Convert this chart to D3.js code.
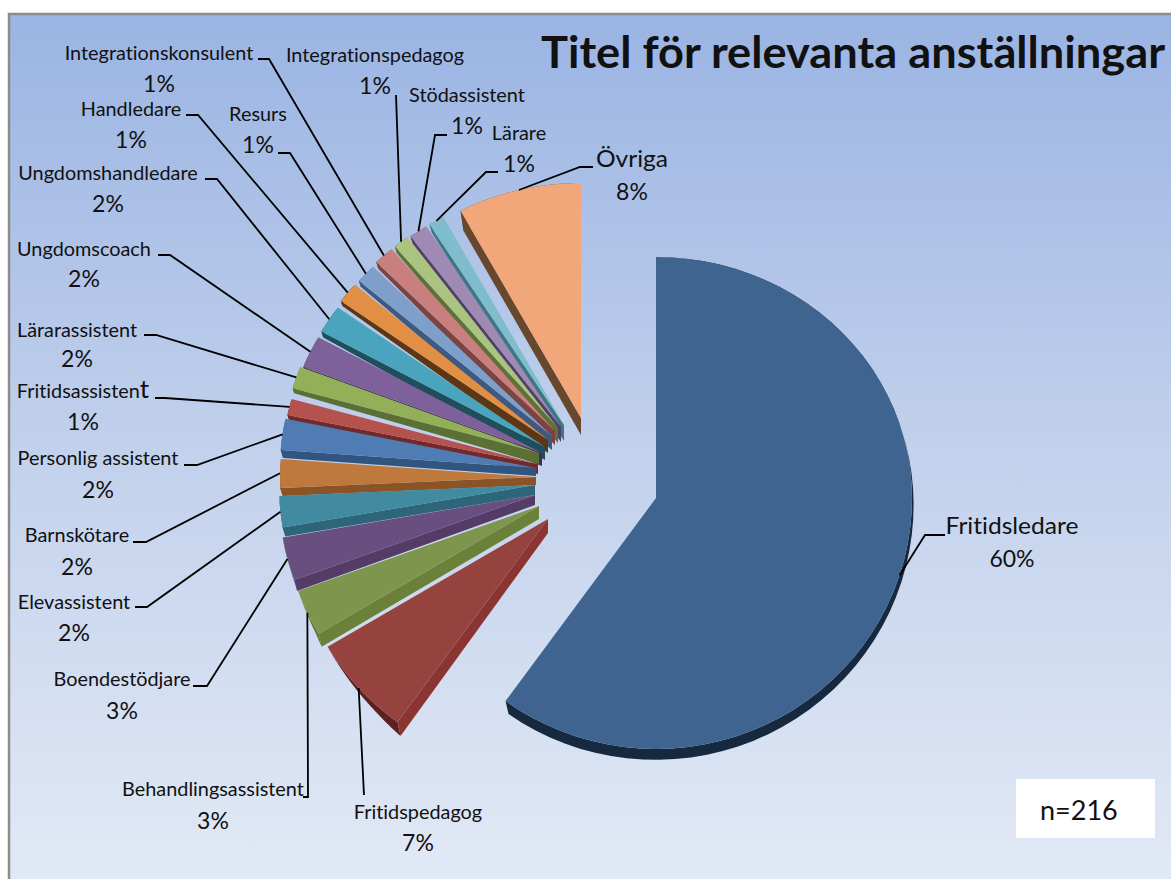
<!DOCTYPE html>
<html><head><meta charset="utf-8">
<script src="https://cdn.jsdelivr.net/npm/d3@7"></script>
<style>html,body{margin:0;padding:0;background:#fff}svg{display:block}text{font-family:Lato,"Open Sans",sans-serif;fill:#111;font-variant-ligatures:none;font-feature-settings:"liga" 0}</style>
</head><body><svg id="c" width="1171" height="879"></svg>
<script>
// ---- data ----
const categories = ["Fritidsledare","Fritidspedagog","Behandlingsassistent","Boendestödjare","Elevassistent","Barnskötare","Personlig assistent","Fritidsassistent","Lärarassistent","Ungdomscoach","Ungdomshandledare","Handledare","Resurs","Integrationskonsulent","Integrationspedagog","Stödassistent","Lärare","Övriga"];
const shares = [60,6.5,3,2.8,2,1.9,2.1,1.1,1.5,2.2,1.9,1.4,1.3,1.3,1,1.2,1,7.8];
const title = "Titel för relevanta anställningar";
const sampleNote = "n=216";
// ---- style ----
const topColors = ["#3e648f","#964340","#7e954d","#684f80","#418aa0","#bf793d","#4f7db3","#b5524e","#93af57","#7e609a","#4ba4bd","#e08f45","#7f9fcb","#c97f7d","#aac47f","#9f8ab4","#7fbccc","#f2a77a"];
const sideColors = ["#17293f","#8a3531","#6b8139","#543c66","#2c6678","#8a5426","#325580","#73292a","#5b7035","#412e58","#1f4e5c","#5d3613","#3f5a82","#7a4442","#5e7138","#52406a","#3f7683","#68472f"];
const rimColors = ["#17293f","#5a2220","#5f7333","#4c3860","#2c6678","#8a5426","#325580","#73292a","#5b7035","#412e58","#1f4e5c","#5d3613","#3f5a82","#7a4442","#5e7138","#52406a","#3f7683","#68472f"];
// ---- layout: exploded slice apexes and extrusion depth ----
const apexes = [[656,498],[548,519],[539,506],[535,495],[535,485],[536,477],[536,468],[538,464],[539,453],[542,453],[545,447],[548,440],[552,436],[555,431],[558,428],[561,427],[564,425],[581,418]];
const depthApex = [0,14,13,10,10,8,8,10,11,13,13,13,14,14,15,15,16,17];
const depthStart = [0,14,13,11,9,8,8,7,5,6,6,5,6,7,7,8,9,20];
const depthEnd = [13,0,0,0,0,0,0,0,0,0,0,0,0,0,0,0,0,0];
// label block: centre x, name baseline, percent baseline
const labelPos = [[1012,534,567],[418,819,851],[213,796,829],[122,686,719],[74,609,641],[77,542,575],[98,465,498],[83,398,430],[77,337,367],[84,256,287],[108,180,212],[131,116,148],[258,121,153],[159,60,92],[375,62,94],[467,102,134],[519,140,172],[632,167,200]];
// leader polyline before it reaches the slice
const leaderPts = [[[945,535],[925,535]],[[364,795]],[[303,797],[308,797]],[[193,686],[207,686]],[[135,607],[147,607]],[[133,542],[146,542]],[[184,465],[197,465]],[[155,398],[165,398]],[[144,335],[156,335]],[[158,255],[170,255]],[[205,179],[217,179]],[[186,115],[198,115]],[[278,153],[290,153]],[[258,59],[269,59]],[[396,95]],[[447,135],[435,135]],[[498,172],[486,172]],[[593,167],[580,167]]];

const svg = d3.select("#c");
const defs = svg.append("defs");
const g = defs.append("linearGradient").attr("id","bg").attr("x1",0).attr("x2",0).attr("y1",0).attr("y2",1);
g.append("stop").attr("offset","0").attr("stop-color","#9ab4e3");
g.append("stop").attr("offset","0.5").attr("stop-color","#c2d1ec");
g.append("stop").attr("offset","1").attr("stop-color","#e3eaf6");
svg.append("rect").attr("x",9).attr("y",14).attr("width",1180).attr("height",880).attr("fill","url(#bg)").attr("stroke","#8c8c8c").attr("stroke-width",2.5);

const pie = d3.pie().sort(null).value(d=>d);
const arcs = pie(shares);
const rx = 256, ryBottom = 251;
const ryTop = ay => 235 + (ay-418)*0.075;
const proj = (i,a,r=1) => {
  const [ax,ay]=apexes[i], c=Math.cos(a);
  return [ax+rx*r*Math.sin(a), ay-(c>0?ryTop(ay):ryBottom)*r*c];
};
const line = d3.line();
const arcPoints = (i,a0,a1) => d3.range(0,61).map(k=>proj(i,a0+(a1-a0)*k/60));
const layer = svg.append("g");
const order = d3.range(shares.length).reverse();
order.forEach(i=>{
  const a = arcs[i], [ax,ay]=apexes[i];
  const pts = arcPoints(i,a.startAngle,a.endAngle);
  const dA=depthApex[i], dS=depthStart[i], dE=depthEnd[i];
  const sh = (p,d)=>[p[0]+(d>0?Math.min(3,d*.3):0),p[1]+d];
  const low = pts.map((p,k)=>sh(p,dS+(dE-dS)*k/60));
  layer.append("path").attr("d",line(pts.concat(low.slice().reverse()))+"Z").attr("fill",rimColors[i]);
  layer.append("path").attr("d",line([[ax,ay],pts[0],low[0],[ax,ay+dA]])+"Z").attr("fill",sideColors[i]);
  layer.append("path").attr("d",line([[ax,ay]].concat(pts))+"Z").attr("fill",topColors[i]);
});
// leaders
const leaders = svg.append("g").attr("fill","none").attr("stroke","#000").attr("stroke-width",1.8);
arcs.forEach((a,i)=>{
  const end = proj(i,(a.startAngle+a.endAngle)/2);
  leaders.append("path").attr("d",line(leaderPts[i].concat([end])));
});
// stretch text horizontally the way the picture does
const stretch = (sel,k)=>{ const w=sel.node().getComputedTextLength(); sel.attr("textLength",w*k).attr("lengthAdjust","spacingAndGlyphs"); };
categories.forEach((c,i)=>{
  const [x,y1,y2]=labelPos[i];
  const big = i===0||i===17;
  const t = svg.append("text").attr("x",x).attr("y",y1).attr("text-anchor","middle").attr("font-size",big?23.5:19);
  if(c==="Fritidsassistent"){ t.text("Fritidsassisten"); t.append("tspan").attr("font-size",25).text("t"); }
  else t.text(c);
  stretch(t,1.045);
  svg.append("text").attr("x",x).attr("y",y2).attr("text-anchor","middle").attr("font-size",23).text(Math.round(shares[i])+"%");
});
const tt = svg.append("text").attr("x",541).attr("y",68).attr("font-size",44).attr("font-weight",700).text(title);
tt.attr("textLength",624).attr("lengthAdjust","spacingAndGlyphs");
svg.append("rect").attr("x",1016).attr("y",779).attr("width",139).attr("height",59).attr("fill","#fff");
svg.append("text").attr("x",1040).attr("y",820).attr("font-size",27).text(sampleNote);
</script></body></html>
